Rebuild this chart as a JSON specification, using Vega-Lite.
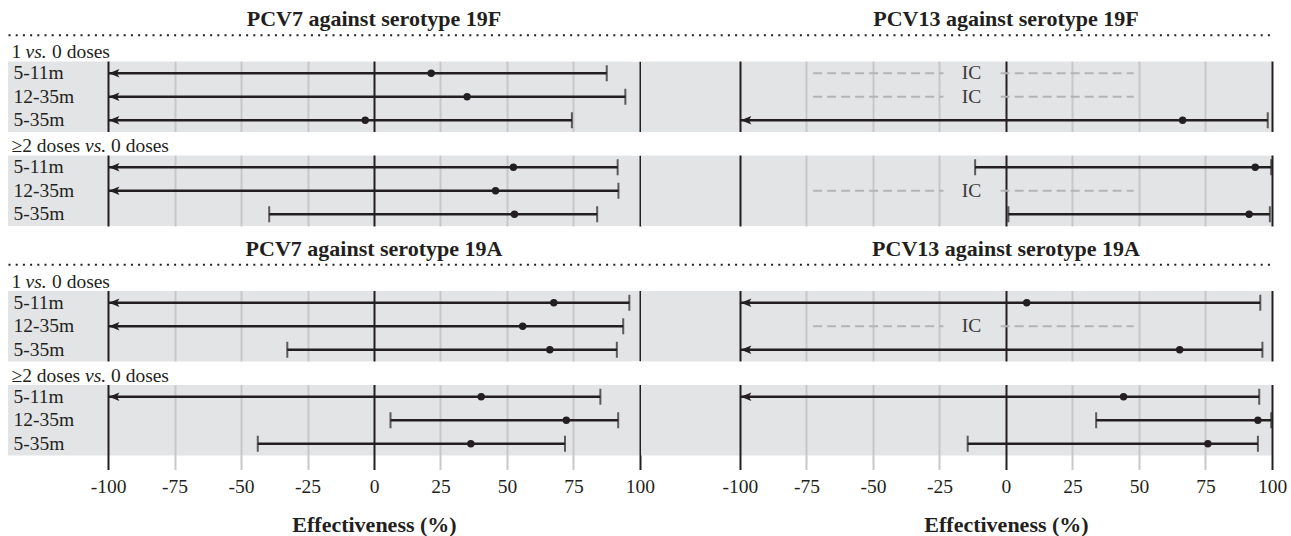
{
  "$schema": "https://vega.github.io/schema/vega-lite/v6.json",
  "padding": {"left": 8, "top": 8, "right": 0, "bottom": 0},
  "background": "white",
  "config": {"font": "Liberation Serif", "view": {"stroke": null}},
  "datasets": {
    "hdr": [
      {"row": "h1", "pre": "1", "mid": "vs.", "post": "0 doses"},
      {"row": "h2", "pre": "≥2 doses", "mid": "vs.", "post": "0 doses"}
    ],
    "est": [
      {"vac": "PCV7", "sero": "19F", "row": "1:5-11m", "age": "5-11m", "est": 21.5, "lo": -100, "hi": 87.5, "trunc": true, "note": null},
      {"vac": "PCV7", "sero": "19F", "row": "1:12-35m", "age": "12-35m", "est": 35.0, "lo": -100, "hi": 94.5, "trunc": true, "note": null},
      {"vac": "PCV7", "sero": "19F", "row": "1:5-35m", "age": "5-35m", "est": -3.3, "lo": -100, "hi": 74.4, "trunc": true, "note": null},
      {"vac": "PCV7", "sero": "19F", "row": "2:5-11m", "age": "5-11m", "est": 52.4, "lo": -100, "hi": 91.6, "trunc": true, "note": null},
      {"vac": "PCV7", "sero": "19F", "row": "2:12-35m", "age": "12-35m", "est": 45.7, "lo": -100, "hi": 91.9, "trunc": true, "note": null},
      {"vac": "PCV7", "sero": "19F", "row": "2:5-35m", "age": "5-35m", "est": 52.8, "lo": -39.4, "hi": 83.9, "trunc": false, "note": null},
      {"vac": "PCV13", "sero": "19F", "row": "1:5-11m", "age": "5-11m", "est": null, "lo": null, "hi": null, "trunc": false, "note": "IC"},
      {"vac": "PCV13", "sero": "19F", "row": "1:12-35m", "age": "12-35m", "est": null, "lo": null, "hi": null, "trunc": false, "note": "IC"},
      {"vac": "PCV13", "sero": "19F", "row": "1:5-35m", "age": "5-35m", "est": 66.4, "lo": -100, "hi": 98.4, "trunc": true, "note": null},
      {"vac": "PCV13", "sero": "19F", "row": "2:5-11m", "age": "5-11m", "est": 93.7, "lo": -11.6, "hi": 99.7, "trunc": false, "note": null},
      {"vac": "PCV13", "sero": "19F", "row": "2:12-35m", "age": "12-35m", "est": null, "lo": null, "hi": null, "trunc": false, "note": "IC"},
      {"vac": "PCV13", "sero": "19F", "row": "2:5-35m", "age": "5-35m", "est": 91.4, "lo": 0.9, "hi": 99.2, "trunc": false, "note": null},
      {"vac": "PCV7", "sero": "19A", "row": "1:5-11m", "age": "5-11m", "est": 67.6, "lo": -100, "hi": 96.0, "trunc": true, "note": null},
      {"vac": "PCV7", "sero": "19A", "row": "1:12-35m", "age": "12-35m", "est": 55.9, "lo": -100, "hi": 93.7, "trunc": true, "note": null},
      {"vac": "PCV7", "sero": "19A", "row": "1:5-35m", "age": "5-35m", "est": 66.1, "lo": -32.6, "hi": 91.3, "trunc": false, "note": null},
      {"vac": "PCV7", "sero": "19A", "row": "2:5-11m", "age": "5-11m", "est": 40.3, "lo": -100, "hi": 85.1, "trunc": true, "note": null},
      {"vac": "PCV7", "sero": "19A", "row": "2:12-35m", "age": "12-35m", "est": 72.3, "lo": 6.2, "hi": 91.8, "trunc": false, "note": null},
      {"vac": "PCV7", "sero": "19A", "row": "2:5-35m", "age": "5-35m", "est": 36.4, "lo": -43.7, "hi": 71.8, "trunc": false, "note": null},
      {"vac": "PCV13", "sero": "19A", "row": "1:5-11m", "age": "5-11m", "est": 7.8, "lo": -100, "hi": 95.6, "trunc": true, "note": null},
      {"vac": "PCV13", "sero": "19A", "row": "1:12-35m", "age": "12-35m", "est": null, "lo": null, "hi": null, "trunc": false, "note": "IC"},
      {"vac": "PCV13", "sero": "19A", "row": "1:5-35m", "age": "5-35m", "est": 65.3, "lo": -100, "hi": 96.4, "trunc": true, "note": null},
      {"vac": "PCV13", "sero": "19A", "row": "2:5-11m", "age": "5-11m", "est": 44.2, "lo": -100, "hi": 95.2, "trunc": true, "note": null},
      {"vac": "PCV13", "sero": "19A", "row": "2:12-35m", "age": "12-35m", "est": 94.7, "lo": 33.9, "hi": 99.7, "trunc": false, "note": null},
      {"vac": "PCV13", "sero": "19A", "row": "2:5-35m", "age": "5-35m", "est": 75.9, "lo": -14.4, "hi": 94.7, "trunc": false, "note": null}
    ]
  },
  "bounds": "flush",
  "columns": 2,
  "spacing": {"row": 41.5, "column": 0},
  "concat": [
    {
      "width": 633, "height": 188,
      "view": {"fill": "#e3e4e6", "stroke": null},
      "title": {"text": "PCV7 against serotype 19F", "font": "Liberation Serif", "fontSize": 22, "fontWeight": "bold", "color": "#231f20", "anchor": "middle", "dx": 49.5, "offset": -13.5, "baseline": "alphabetic"},
      "encoding": {"y": {"field": "row", "type": "nominal", "scale": {"type": "band", "domain": ["h1", "1:5-11m", "1:12-35m", "1:5-35m", "h2", "2:5-11m", "2:12-35m", "2:5-35m"], "paddingInner": 0, "paddingOuter": 0}, "axis": null}},
      "layer": [
        {"data": {"name": "hdr"}, "mark": {"type": "rect", "fill": "white"},
         "encoding": {"x": {"datum": -137.6, "type": "quantitative", "scale": {"domain": [-137.6, 100.38], "nice": false, "zero": false},
           "axis": {"orient": "top", "values": [-100, -75, -50, -25, 0, 25, 50, 75, 100], "grid": true, "gridColor": {"condition": {"test": "datum.value === 0 || abs(datum.value) === 100", "value": "#231f20"}, "value": "#c8c8ca"}, "gridWidth": 2, "domain": true, "domainColor": "#231f20", "domainWidth": 2, "domainDash": [2, 5.2], "ticks": false, "labels": false, "title": null, "offset": 3.25, "minExtent": 0}},
           "x2": {"datum": 103}}},
        {"data": {"name": "hdr"}, "mark": {"type": "text", "align": "left", "baseline": "middle", "dx": 3.5, "dy": 2.5, "font": "Liberation Serif", "fontSize": 19.5, "color": "#231f20"},
         "encoding": {"x": {"datum": -137.6, "type": "quantitative", "axis": null}, "text": {"field": "pre"}}},
        {"data": {"name": "hdr"}, "mark": {"type": "text", "align": "left", "baseline": "middle", "dx": {"expr": "datum.row === 'h1' ? 17.5 : 77"}, "dy": 2.5, "font": "Liberation Serif", "fontSize": 19.5, "fontStyle": "italic", "color": "#231f20"},
         "encoding": {"x": {"datum": -137.6, "type": "quantitative", "axis": null}, "text": {"field": "mid"}}},
        {"data": {"name": "hdr"}, "mark": {"type": "text", "align": "left", "baseline": "middle", "dx": {"expr": "datum.row === 'h1' ? 44 : 103"}, "dy": 2.5, "font": "Liberation Serif", "fontSize": 19.5, "color": "#231f20"},
         "encoding": {"x": {"datum": -137.6, "type": "quantitative", "axis": null}, "text": {"field": "post"}}},
        {"data": {"name": "est"}, "transform": [{"filter": "datum.vac === 'PCV7' && datum.sero === '19F'"}],
         "mark": {"type": "text", "align": "left", "baseline": "middle", "dx": 5.5, "font": "Liberation Serif", "fontSize": 19.5, "color": "#231f20"},
         "encoding": {"x": {"datum": -137.6, "type": "quantitative", "axis": null}, "text": {"field": "age"}}},
        {"data": {"name": "est"}, "transform": [{"filter": "datum.vac === 'PCV7' && datum.sero === '19F' && datum.note === null"}],
         "mark": {"type": "rule", "strokeWidth": 2.5, "color": "#231f20"},
         "encoding": {"x": {"field": "lo", "type": "quantitative", "axis": {"orient": "bottom", "domain": false, "ticks": false, "labels": false, "grid": false, "title": null, "minExtent": 0, "maxExtent": 0}}, "x2": {"field": "hi"}}},
        {"data": {"name": "est"}, "transform": [{"filter": "datum.vac === 'PCV7' && datum.sero === '19F' && datum.note === null"}],
         "mark": {"type": "tick", "orient": "vertical", "size": 16, "thickness": 2, "color": "#231f20"},
         "encoding": {"x": {"field": "hi", "type": "quantitative", "axis": null}}},
        {"data": {"name": "est"}, "transform": [{"filter": "datum.vac === 'PCV7' && datum.sero === '19F' && datum.note === null && !datum.trunc"}],
         "mark": {"type": "tick", "orient": "vertical", "size": 16, "thickness": 2, "color": "#231f20"},
         "encoding": {"x": {"field": "lo", "type": "quantitative", "axis": null}}},
        {"data": {"name": "est"}, "transform": [{"filter": "datum.vac === 'PCV7' && datum.sero === '19F' && datum.trunc"}],
         "mark": {"type": "point", "shape": "M0.15,0L1.9,-0.7L1.5,0L1.9,0.7Z", "filled": true, "opacity": 1, "size": 144, "color": "#231f20"},
         "encoding": {"x": {"field": "lo", "type": "quantitative", "axis": null}}},
        {"data": {"name": "est"}, "transform": [{"filter": "datum.vac === 'PCV7' && datum.sero === '19F' && datum.note === null"}],
         "mark": {"type": "circle", "size": 55, "opacity": 1, "color": "#231f20"},
         "encoding": {"x": {"field": "est", "type": "quantitative", "axis": null}}}
      ]
    },
    {
      "width": 631, "height": 188,
      "view": {"fill": "#e3e4e6", "stroke": null},
      "title": {"text": "PCV13 against serotype 19F", "font": "Liberation Serif", "fontSize": 22, "fontWeight": "bold", "color": "#231f20", "anchor": "middle", "dx": 49.5, "offset": -13.5, "baseline": "alphabetic"},
      "encoding": {"y": {"field": "row", "type": "nominal", "scale": {"type": "band", "domain": ["h1", "1:5-11m", "1:12-35m", "1:5-35m", "h2", "2:5-11m", "2:12-35m", "2:5-35m"], "paddingInner": 0, "paddingOuter": 0}, "axis": null}},
      "layer": [
        {"data": {"name": "hdr"}, "mark": {"type": "rect", "fill": "white"},
         "encoding": {"x": {"datum": -141, "type": "quantitative", "scale": {"domain": [-137.2, 100], "nice": false, "zero": false},
           "axis": {"orient": "top", "values": [-100, -75, -50, -25, 0, 25, 50, 75, 100], "grid": true, "gridColor": {"condition": {"test": "datum.value === 0 || abs(datum.value) === 100", "value": "#231f20"}, "value": "#c8c8ca"}, "gridWidth": 2, "domain": true, "domainColor": "#231f20", "domainWidth": 2, "domainDash": [2, 5.2], "ticks": false, "labels": false, "title": null, "offset": 3.25, "minExtent": 0}},
           "x2": {"datum": 101.5}}},
        {"data": {"name": "est"}, "transform": [{"filter": "datum.vac === 'PCV13' && datum.sero === '19F' && datum.note === null"}],
         "mark": {"type": "rule", "strokeWidth": 2.5, "color": "#231f20"},
         "encoding": {"x": {"field": "lo", "type": "quantitative", "axis": {"orient": "bottom", "domain": false, "ticks": false, "labels": false, "grid": false, "title": null, "minExtent": 0, "maxExtent": 0}}, "x2": {"field": "hi"}}},
        {"data": {"name": "est"}, "transform": [{"filter": "datum.vac === 'PCV13' && datum.sero === '19F' && datum.note === null"}],
         "mark": {"type": "tick", "orient": "vertical", "size": 16, "thickness": 2, "color": "#231f20"},
         "encoding": {"x": {"field": "hi", "type": "quantitative", "axis": null}}},
        {"data": {"name": "est"}, "transform": [{"filter": "datum.vac === 'PCV13' && datum.sero === '19F' && datum.note === null && !datum.trunc"}],
         "mark": {"type": "tick", "orient": "vertical", "size": 16, "thickness": 2, "color": "#231f20"},
         "encoding": {"x": {"field": "lo", "type": "quantitative", "axis": null}}},
        {"data": {"name": "est"}, "transform": [{"filter": "datum.vac === 'PCV13' && datum.sero === '19F' && datum.trunc"}],
         "mark": {"type": "point", "shape": "M0.15,0L1.9,-0.7L1.5,0L1.9,0.7Z", "filled": true, "opacity": 1, "size": 144, "color": "#231f20"},
         "encoding": {"x": {"field": "lo", "type": "quantitative", "axis": null}}},
        {"data": {"name": "est"}, "transform": [{"filter": "datum.vac === 'PCV13' && datum.sero === '19F' && datum.note === null"}],
         "mark": {"type": "circle", "size": 55, "opacity": 1, "color": "#231f20"},
         "encoding": {"x": {"field": "est", "type": "quantitative", "axis": null}}},
        {"data": {"name": "est"}, "transform": [{"filter": "datum.vac === 'PCV13' && datum.sero === '19F' && datum.note === 'IC'"}],
         "mark": {"type": "rule", "strokeWidth": 2, "color": "#b4b4b6", "strokeDash": [9, 5]},
         "encoding": {"x": {"datum": -72.5, "type": "quantitative", "axis": null}, "x2": {"datum": -23.5}}},
        {"data": {"name": "est"}, "transform": [{"filter": "datum.vac === 'PCV13' && datum.sero === '19F' && datum.note === 'IC'"}],
         "mark": {"type": "rule", "strokeWidth": 2, "color": "#b4b4b6", "strokeDash": [9, 5]},
         "encoding": {"x": {"datum": -2, "type": "quantitative", "axis": null}, "x2": {"datum": 48}}},
        {"data": {"name": "est"}, "transform": [{"filter": "datum.vac === 'PCV13' && datum.sero === '19F' && datum.note === 'IC'"}],
         "mark": {"type": "text", "align": "center", "baseline": "middle", "font": "Liberation Serif", "fontSize": 19.5, "color": "#3a3a3a"},
         "encoding": {"x": {"datum": -13, "type": "quantitative", "axis": null}, "text": {"field": "note"}}}
      ]
    },
    {
      "width": 633, "height": 188,
      "view": {"fill": "#e3e4e6", "stroke": null},
      "title": {"text": "PCV7 against serotype 19A", "font": "Liberation Serif", "fontSize": 22, "fontWeight": "bold", "color": "#231f20", "anchor": "middle", "dx": 49.5, "offset": -13.5, "baseline": "alphabetic"},
      "encoding": {"y": {"field": "row", "type": "nominal", "scale": {"type": "band", "domain": ["h1", "1:5-11m", "1:12-35m", "1:5-35m", "h2", "2:5-11m", "2:12-35m", "2:5-35m"], "paddingInner": 0, "paddingOuter": 0}, "axis": null}},
      "layer": [
        {"data": {"name": "hdr"}, "mark": {"type": "rect", "fill": "white"},
         "encoding": {"x": {"datum": -137.6, "type": "quantitative", "scale": {"domain": [-137.6, 100.38], "nice": false, "zero": false},
           "axis": {"orient": "top", "values": [-100, -75, -50, -25, 0, 25, 50, 75, 100], "grid": true, "gridColor": {"condition": {"test": "datum.value === 0 || abs(datum.value) === 100", "value": "#231f20"}, "value": "#c8c8ca"}, "gridWidth": 2, "domain": true, "domainColor": "#231f20", "domainWidth": 2, "domainDash": [2, 5.2], "ticks": false, "labels": false, "title": null, "offset": 3.25, "minExtent": 0}},
           "x2": {"datum": 103}}},
        {"data": {"name": "hdr"}, "mark": {"type": "text", "align": "left", "baseline": "middle", "dx": 3.5, "dy": 2.5, "font": "Liberation Serif", "fontSize": 19.5, "color": "#231f20"},
         "encoding": {"x": {"datum": -137.6, "type": "quantitative", "axis": null}, "text": {"field": "pre"}}},
        {"data": {"name": "hdr"}, "mark": {"type": "text", "align": "left", "baseline": "middle", "dx": {"expr": "datum.row === 'h1' ? 17.5 : 77"}, "dy": 2.5, "font": "Liberation Serif", "fontSize": 19.5, "fontStyle": "italic", "color": "#231f20"},
         "encoding": {"x": {"datum": -137.6, "type": "quantitative", "axis": null}, "text": {"field": "mid"}}},
        {"data": {"name": "hdr"}, "mark": {"type": "text", "align": "left", "baseline": "middle", "dx": {"expr": "datum.row === 'h1' ? 44 : 103"}, "dy": 2.5, "font": "Liberation Serif", "fontSize": 19.5, "color": "#231f20"},
         "encoding": {"x": {"datum": -137.6, "type": "quantitative", "axis": null}, "text": {"field": "post"}}},
        {"data": {"name": "est"}, "transform": [{"filter": "datum.vac === 'PCV7' && datum.sero === '19A'"}],
         "mark": {"type": "text", "align": "left", "baseline": "middle", "dx": 5.5, "font": "Liberation Serif", "fontSize": 19.5, "color": "#231f20"},
         "encoding": {"x": {"datum": -137.6, "type": "quantitative", "axis": null}, "text": {"field": "age"}}},
        {"data": {"name": "est"}, "transform": [{"filter": "datum.vac === 'PCV7' && datum.sero === '19A' && datum.note === null"}],
         "mark": {"type": "rule", "strokeWidth": 2.5, "color": "#231f20"},
         "encoding": {"x": {"field": "lo", "type": "quantitative",
           "axis": {"orient": "bottom", "values": [-100, -75, -50, -25, 0, 25, 50, 75, 100], "grid": false, "domain": false, "ticks": true, "tickSize": 14, "tickWidth": 2, "tickColor": {"condition": {"test": "datum.value === 0 || abs(datum.value) === 100", "value": "#231f20"}, "value": "#c8c8ca"}, "labelFont": "Liberation Serif", "labelFontSize": 19.5, "labelColor": "#231f20", "labelPadding": 8, "labelFlush": false, "labelOverlap": false, "labelExpr": "datum.value + ''", "title": "Effectiveness (%)", "titleFont": "Liberation Serif", "titleFontSize": 22, "titleFontWeight": "bold", "titleColor": "#231f20", "titleX": 366, "titleY": 76, "titleBaseline": "alphabetic", "titleAlign": "center"}},
           "x2": {"field": "hi"}}},
        {"data": {"name": "est"}, "transform": [{"filter": "datum.vac === 'PCV7' && datum.sero === '19A' && datum.note === null"}],
         "mark": {"type": "tick", "orient": "vertical", "size": 16, "thickness": 2, "color": "#231f20"},
         "encoding": {"x": {"field": "hi", "type": "quantitative", "axis": null}}},
        {"data": {"name": "est"}, "transform": [{"filter": "datum.vac === 'PCV7' && datum.sero === '19A' && datum.note === null && !datum.trunc"}],
         "mark": {"type": "tick", "orient": "vertical", "size": 16, "thickness": 2, "color": "#231f20"},
         "encoding": {"x": {"field": "lo", "type": "quantitative", "axis": null}}},
        {"data": {"name": "est"}, "transform": [{"filter": "datum.vac === 'PCV7' && datum.sero === '19A' && datum.trunc"}],
         "mark": {"type": "point", "shape": "M0.15,0L1.9,-0.7L1.5,0L1.9,0.7Z", "filled": true, "opacity": 1, "size": 144, "color": "#231f20"},
         "encoding": {"x": {"field": "lo", "type": "quantitative", "axis": null}}},
        {"data": {"name": "est"}, "transform": [{"filter": "datum.vac === 'PCV7' && datum.sero === '19A' && datum.note === null"}],
         "mark": {"type": "circle", "size": 55, "opacity": 1, "color": "#231f20"},
         "encoding": {"x": {"field": "est", "type": "quantitative", "axis": null}}}
      ]
    },
    {
      "width": 631, "height": 188,
      "view": {"fill": "#e3e4e6", "stroke": null},
      "title": {"text": "PCV13 against serotype 19A", "font": "Liberation Serif", "fontSize": 22, "fontWeight": "bold", "color": "#231f20", "anchor": "middle", "dx": 49.5, "offset": -13.5, "baseline": "alphabetic"},
      "encoding": {"y": {"field": "row", "type": "nominal", "scale": {"type": "band", "domain": ["h1", "1:5-11m", "1:12-35m", "1:5-35m", "h2", "2:5-11m", "2:12-35m", "2:5-35m"], "paddingInner": 0, "paddingOuter": 0}, "axis": null}},
      "layer": [
        {"data": {"name": "hdr"}, "mark": {"type": "rect", "fill": "white"},
         "encoding": {"x": {"datum": -141, "type": "quantitative", "scale": {"domain": [-137.2, 100], "nice": false, "zero": false},
           "axis": {"orient": "top", "values": [-100, -75, -50, -25, 0, 25, 50, 75, 100], "grid": true, "gridColor": {"condition": {"test": "datum.value === 0 || abs(datum.value) === 100", "value": "#231f20"}, "value": "#c8c8ca"}, "gridWidth": 2, "domain": true, "domainColor": "#231f20", "domainWidth": 2, "domainDash": [2, 5.2], "ticks": false, "labels": false, "title": null, "offset": 3.25, "minExtent": 0}},
           "x2": {"datum": 101.5}}},
        {"data": {"name": "est"}, "transform": [{"filter": "datum.vac === 'PCV13' && datum.sero === '19A' && datum.note === null"}],
         "mark": {"type": "rule", "strokeWidth": 2.5, "color": "#231f20"},
         "encoding": {"x": {"field": "lo", "type": "quantitative",
           "axis": {"orient": "bottom", "values": [-100, -75, -50, -25, 0, 25, 50, 75, 100], "grid": false, "domain": false, "ticks": true, "tickSize": 14, "tickWidth": 2, "tickColor": {"condition": {"test": "datum.value === 0 || abs(datum.value) === 100", "value": "#231f20"}, "value": "#c8c8ca"}, "labelFont": "Liberation Serif", "labelFontSize": 19.5, "labelColor": "#231f20", "labelPadding": 8, "labelFlush": false, "labelOverlap": false, "labelExpr": "datum.value + ''", "title": "Effectiveness (%)", "titleFont": "Liberation Serif", "titleFontSize": 22, "titleFontWeight": "bold", "titleColor": "#231f20", "titleX": 365, "titleY": 76, "titleBaseline": "alphabetic", "titleAlign": "center"}},
           "x2": {"field": "hi"}}},
        {"data": {"name": "est"}, "transform": [{"filter": "datum.vac === 'PCV13' && datum.sero === '19A' && datum.note === null"}],
         "mark": {"type": "tick", "orient": "vertical", "size": 16, "thickness": 2, "color": "#231f20"},
         "encoding": {"x": {"field": "hi", "type": "quantitative", "axis": null}}},
        {"data": {"name": "est"}, "transform": [{"filter": "datum.vac === 'PCV13' && datum.sero === '19A' && datum.note === null && !datum.trunc"}],
         "mark": {"type": "tick", "orient": "vertical", "size": 16, "thickness": 2, "color": "#231f20"},
         "encoding": {"x": {"field": "lo", "type": "quantitative", "axis": null}}},
        {"data": {"name": "est"}, "transform": [{"filter": "datum.vac === 'PCV13' && datum.sero === '19A' && datum.trunc"}],
         "mark": {"type": "point", "shape": "M0.15,0L1.9,-0.7L1.5,0L1.9,0.7Z", "filled": true, "opacity": 1, "size": 144, "color": "#231f20"},
         "encoding": {"x": {"field": "lo", "type": "quantitative", "axis": null}}},
        {"data": {"name": "est"}, "transform": [{"filter": "datum.vac === 'PCV13' && datum.sero === '19A' && datum.note === null"}],
         "mark": {"type": "circle", "size": 55, "opacity": 1, "color": "#231f20"},
         "encoding": {"x": {"field": "est", "type": "quantitative", "axis": null}}},
        {"data": {"name": "est"}, "transform": [{"filter": "datum.vac === 'PCV13' && datum.sero === '19A' && datum.note === 'IC'"}],
         "mark": {"type": "rule", "strokeWidth": 2, "color": "#b4b4b6", "strokeDash": [9, 5]},
         "encoding": {"x": {"datum": -72.5, "type": "quantitative", "axis": null}, "x2": {"datum": -23.5}}},
        {"data": {"name": "est"}, "transform": [{"filter": "datum.vac === 'PCV13' && datum.sero === '19A' && datum.note === 'IC'"}],
         "mark": {"type": "rule", "strokeWidth": 2, "color": "#b4b4b6", "strokeDash": [9, 5]},
         "encoding": {"x": {"datum": -2, "type": "quantitative", "axis": null}, "x2": {"datum": 48}}},
        {"data": {"name": "est"}, "transform": [{"filter": "datum.vac === 'PCV13' && datum.sero === '19A' && datum.note === 'IC'"}],
         "mark": {"type": "text", "align": "center", "baseline": "middle", "font": "Liberation Serif", "fontSize": 19.5, "color": "#3a3a3a"},
         "encoding": {"x": {"datum": -13, "type": "quantitative", "axis": null}, "text": {"field": "note"}}}
      ]
    }
  ]
}
